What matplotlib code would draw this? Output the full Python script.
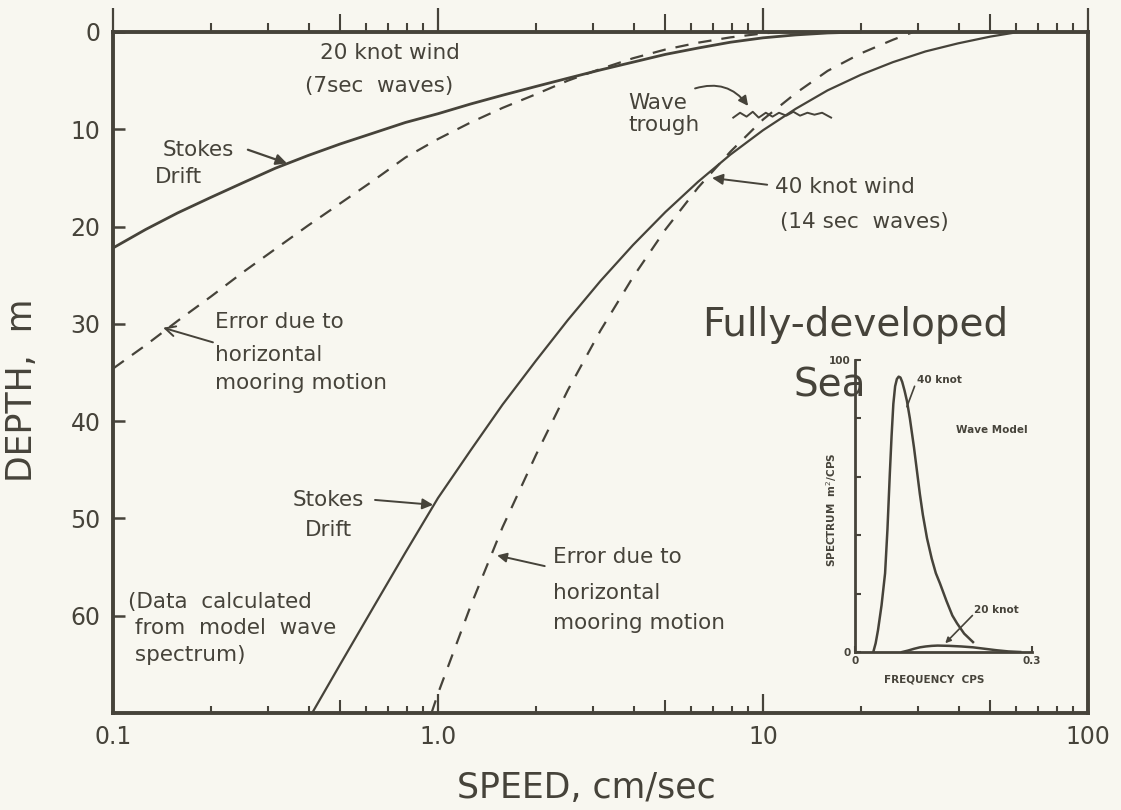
import matplotlib
matplotlib.use("Agg")
import matplotlib.pyplot as plt
from matplotlib.ticker import FixedLocator, NullLocator, NullFormatter

# ---- Stokes drift and mooring-motion error profiles (speed cm/s vs depth m) ----
wind20_stokes_speed = [0.1, 0.126, 0.158, 0.2, 0.251, 0.316, 0.398, 0.501, 0.631, 0.794, 1.0,
                       1.26, 1.58, 2.0, 2.51, 3.16, 3.98, 5.01, 6.31, 7.94, 10.0, 12.6, 15.8, 20.0]
wind20_stokes_depth = [22.2, 20.3, 18.6, 17.0, 15.5, 14.0, 12.7, 11.5, 10.4, 9.3, 8.4,
                       7.4, 6.5, 5.6, 4.75, 3.9, 3.1, 2.3, 1.65, 1.05, 0.6, 0.3, 0.1, 0.0]

wind20_error_speed = [0.1, 0.126, 0.158, 0.2, 0.251, 0.316, 0.398, 0.501, 0.631, 0.794, 1.0,
                      1.26, 1.58, 2.0, 2.51, 3.16, 3.98, 5.01, 6.31, 7.94, 10.0, 11.2]
wind20_error_depth = [34.6, 32.2, 29.7, 27.2, 24.7, 22.3, 19.9, 17.6, 15.3, 12.9, 11.0,
                      9.3, 7.8, 6.4, 5.0, 3.8, 2.7, 1.8, 1.1, 0.55, 0.15, 0.0]

wind40_stokes_speed = [0.41, 0.5, 0.631, 0.794, 1.0, 1.26, 1.58, 2.0, 2.51, 3.16, 3.98, 5.01,
                       6.31, 7.94, 10.0, 12.6, 15.8, 20.0, 25.1, 31.6, 39.8, 50.1, 61.0]
wind40_stokes_depth = [70.0, 65.0, 59.2, 53.5, 47.9, 43.0, 38.3, 33.8, 29.6, 25.6, 21.9, 18.5,
                       15.4, 12.6, 10.1, 7.9, 6.0, 4.4, 3.1, 2.0, 1.17, 0.47, 0.0]

wind40_error_speed = [0.955, 1.0, 1.26, 1.58, 2.0, 2.51, 3.16, 3.98, 5.01, 6.31, 7.94, 10.0,
                      12.6, 15.8, 20.0, 25.1, 29.0]
wind40_error_depth = [70.0, 68.0, 59.0, 50.9, 43.5, 36.8, 30.7, 25.2, 20.3, 16.0, 12.3, 9.0,
                      6.3, 4.0, 2.2, 0.8, 0.0]

# wavy sketch of the wave trough
trough_speed = [8.1, 8.5, 8.9, 9.3, 9.7, 10.2, 10.7, 11.2, 11.8, 12.4, 13.0, 13.7, 14.4, 15.2, 16.2]
trough_depth = [8.8, 8.3, 8.7, 8.2, 8.8, 8.3, 8.7, 8.3, 8.6, 8.2, 8.6, 8.3, 8.5, 8.3, 8.8]

# ---- inset: model wave spectra ----
spec40_freq = [0.031, 0.035, 0.039, 0.045, 0.051, 0.055, 0.059, 0.062, 0.065, 0.068, 0.071,
               0.074, 0.077, 0.080, 0.084, 0.088, 0.093, 0.100, 0.105, 0.110, 0.115, 0.122,
               0.130, 0.137, 0.144, 0.155, 0.165, 0.173, 0.185, 0.200]
spec40_value = [0.0, 3.0, 7.5, 16.0, 27.0, 42.0, 61.0, 74.0, 85.0, 91.0, 93.5,
                94.3, 94.0, 92.5, 89.5, 86.0, 80.0, 70.0, 62.0, 54.0, 47.0, 39.0,
                32.0, 27.0, 23.5, 17.5, 12.5, 9.8, 6.3, 3.4]
spec20_freq = [0.08, 0.09, 0.10, 0.11, 0.12, 0.13, 0.14, 0.16, 0.18, 0.20, 0.22, 0.24, 0.26, 0.28]
spec20_value = [0.0, 0.5, 1.1, 1.6, 1.9, 2.1, 2.2, 2.1, 1.9, 1.6, 1.1, 0.6, 0.2, 0.0]

x_ticks = [0.1, 1.0, 10, 100]
x_ticklabels = ["0.1", "1.0", "10", "100"]
y_ticks = [0, 10, 20, 30, 40, 50, 60]
y_ticklabels = ["0", "10", "20", "30", "40", "50", "60"]

INK = "#46433a"
PAPER = "#f8f7f0"
FONT = "DejaVu Sans"

plt.rcParams["font.family"] = FONT
fig = plt.figure(figsize=(11.21, 8.10), dpi=100, facecolor=PAPER)
ax = fig.add_axes([113 / 1121, 1 - 713 / 810, 975 / 1121, 681 / 810])
ax.set_facecolor(PAPER)
ax.set_xscale("log")
ax.set_xlim(0.1, 100)
ax.set_ylim(70, 0)

# curves
ax.plot(wind20_stokes_speed, wind20_stokes_depth, color=INK, lw=2.0, solid_capstyle="round")
ax.plot(wind20_error_speed, wind20_error_depth, color=INK, lw=1.6, linestyle=(0, (6, 4.5)))
ax.plot(wind40_stokes_speed, wind40_stokes_depth, color=INK, lw=1.6)
ax.plot(wind40_error_speed, wind40_error_depth, color=INK, lw=1.6, linestyle=(0, (6, 5)))
ax.plot(trough_speed, trough_depth, color=INK, lw=1.4)

# spines and ticks
for sp in ax.spines.values():
    sp.set_color(INK)
    sp.set_linewidth(2.8)

minor_pos = [m * d for d in (0.1, 1, 10) for m in (2, 3, 4, 6, 7, 8, 9)]
fives = [0.5, 5, 50]

ax.xaxis.set_major_locator(FixedLocator(x_ticks))
ax.set_xticklabels(x_ticklabels)
ax.xaxis.set_minor_locator(FixedLocator(minor_pos))
ax.xaxis.set_minor_formatter(NullFormatter())
ax.tick_params(axis="x", which="major", direction="in", length=14, width=1.6,
               color=INK, labelcolor=INK, labelsize=17, pad=9, top=False)
ax.tick_params(axis="x", which="minor", direction="in", length=5, width=1.5,
               color=INK, top=False)

ax.set_yticks(y_ticks)
ax.set_yticklabels(y_ticklabels)
ax.yaxis.set_minor_locator(NullLocator())
ax.tick_params(axis="y", which="major", direction="in", length=8.5, width=1.8,
               color=INK, labelcolor=INK, labelsize=17, pad=9, right=False)

# medium ticks at the fives along the bottom
sec_b = ax.secondary_xaxis("bottom")
sec_b.set_xticks(fives)
sec_b.xaxis.set_minor_locator(NullLocator())
sec_b.tick_params(axis="x", which="major", direction="in", length=9.5, width=1.5,
                  color=INK, labelbottom=False)
for sp in sec_b.spines.values():
    sp.set_visible(False)

# outward ticks along the top
sec_t = ax.secondary_xaxis("top")
sec_t.set_xticks(x_ticks)
sec_t.xaxis.set_minor_locator(FixedLocator(minor_pos))
sec_t.xaxis.set_minor_formatter(NullFormatter())
sec_t.tick_params(axis="x", which="major", direction="out", length=17, width=1.6,
                  color=INK, labeltop=False)
sec_t.tick_params(axis="x", which="minor", direction="out", length=6.5, width=1.5, color=INK)
for sp in sec_t.spines.values():
    sp.set_visible(False)

sec_t5 = ax.secondary_xaxis("top")
sec_t5.set_xticks(fives)
sec_t5.xaxis.set_minor_locator(NullLocator())
sec_t5.tick_params(axis="x", which="major", direction="out", length=13, width=1.5,
                   color=INK, labeltop=False)
for sp in sec_t5.spines.values():
    sp.set_visible(False)

# axis titles
ax.set_xlabel("SPEED, cm/sec", fontsize=25, color=INK)
ax.xaxis.label.set_va("center")
ax.xaxis.set_label_coords(0.486, -0.110)
ax.set_ylabel("DEPTH,  m", fontsize=25, color=INK)
ax.yaxis.label.set_va("center")
ax.yaxis.set_label_coords(-0.093, 0.474)

# annotations
txt = dict(color=INK, fontsize=15.5, ha="left", va="center")
ax.text(0.434, 2.2, "20 knot wind", **txt)
ax.text(0.39, 5.5, "(7sec  waves)", **txt)

ax.text(0.1426, 12.1, "Stokes", **txt)
ax.text(0.1347, 14.9, "Drift", **txt)
ax.annotate("", xy=(0.343, 13.5), xytext=(0.26, 12.1),
            arrowprops=dict(arrowstyle="-|>", color=INK, lw=1.6, mutation_scale=16,
                            shrinkA=0, shrinkB=0))

ax.text(3.85, 7.3, "Wave", **txt)
ax.text(3.85, 9.6, "trough", **txt)
ax.annotate("", xy=(9.0, 7.6), xytext=(6.18, 5.8),
            arrowprops=dict(arrowstyle="-|>", color=INK, lw=1.4, mutation_scale=14,
                            shrinkA=0, shrinkB=0, connectionstyle="arc3,rad=-0.35"))

ax.text(10.9, 15.9, "40 knot wind", **txt)
ax.text(11.3, 19.5, "(14 sec  waves)", **txt)
ax.annotate("", xy=(6.97, 15.0), xytext=(10.3, 15.7),
            arrowprops=dict(arrowstyle="-|>", color=INK, lw=1.4, mutation_scale=16,
                            shrinkA=0, shrinkB=0))

ax.text(19.2, 30.1, "Fully-developed", color=INK, fontsize=28, ha="center", va="center")
ax.text(16.1, 36.3, "Sea", color=INK, fontsize=28, ha="center", va="center")

err_lines = ["Error due to", "horizontal", "mooring motion"]
for line, d in zip(err_lines, [29.8, 33.2, 36.1]):
    ax.text(0.206, d, line, **txt)
ax.annotate("", xy=(0.1426, 30.4), xytext=(0.203, 31.9),
            arrowprops=dict(arrowstyle="->", color=INK, lw=1.4, mutation_scale=18,
                            shrinkA=0, shrinkB=0))

ax.text(0.358, 48.1, "Stokes", **txt)
ax.text(0.39, 51.2, "Drift", **txt)
ax.annotate("", xy=(0.966, 48.6), xytext=(0.64, 48.1),
            arrowprops=dict(arrowstyle="-|>", color=INK, lw=1.4, mutation_scale=16,
                            shrinkA=0, shrinkB=0))

for line, d in zip(err_lines, [54.0, 57.7, 60.7]):
    ax.text(2.26, d, line, **txt)
ax.annotate("", xy=(1.52, 53.8), xytext=(2.13, 54.9),
            arrowprops=dict(arrowstyle="-|>", color=INK, lw=1.4, mutation_scale=14,
                            shrinkA=0, shrinkB=0))

data_note = ["(Data  calculated", " from  model  wave", " spectrum)"]
for line, d in zip(data_note, [58.6, 61.3, 64.0]):
    ax.text(0.111, d, line, **txt)

# ---- inset: wave model spectra ----
axi = fig.add_axes([855 / 1121, 1 - 652 / 810, 177 / 1121, 292 / 810])
axi.patch.set_alpha(0)
axi.set_xlim(0, 0.3)
axi.set_ylim(0, 100)
axi.plot(spec40_freq, spec40_value, color=INK, lw=1.8)
axi.plot(spec20_freq, spec20_value, color=INK, lw=1.8)
for side in ("top", "right"):
    axi.spines[side].set_visible(False)
for side in ("left", "bottom"):
    axi.spines[side].set_color(INK)
    axi.spines[side].set_linewidth(2.0)
axi.set_xticks([0, 0.3])
axi.set_xticklabels(["0", "0.3"])
axi.set_yticks([0, 20, 40, 60, 80, 100])
axi.set_yticklabels(["0", "", "", "", "", "100"])
axi.tick_params(direction="in", length=4, width=1.5, color=INK, labelcolor=INK,
                labelsize=7.5, pad=3)
for lab in axi.get_xticklabels() + axi.get_yticklabels():
    lab.set_fontweight("bold")
axi.set_xlabel("FREQUENCY  CPS", fontsize=7.5, fontweight="bold", color=INK)
axi.xaxis.label.set_va("center")
axi.xaxis.set_label_coords(0.45, -0.095)
axi.set_ylabel("SPECTRUM  m$^2$/CPS", fontsize=7.5, fontweight="bold", color=INK)
axi.yaxis.label.set_va("center")
axi.yaxis.set_label_coords(-0.13, 0.486)

itxt = dict(color=INK, fontsize=7.5, fontweight="bold", ha="left", va="center")
axi.text(0.105, 93, "40 knot", **itxt)
axi.annotate("", xy=(0.088, 84), xytext=(0.101, 91),
             arrowprops=dict(arrowstyle="-", color=INK, lw=1.2, shrinkA=0, shrinkB=0))
axi.text(0.201, 14.5, "20 knot", **itxt)
axi.annotate("", xy=(0.153, 3.0), xytext=(0.199, 12.5),
             arrowprops=dict(arrowstyle="-|>", color=INK, lw=1.2, mutation_scale=8,
                             shrinkA=0, shrinkB=0))
axi.text(0.232, 76, "Wave Model", color=INK, fontsize=7.5, fontweight="bold",
         ha="center", va="center")

fig.savefig("out.png", dpi=100, facecolor=PAPER)
